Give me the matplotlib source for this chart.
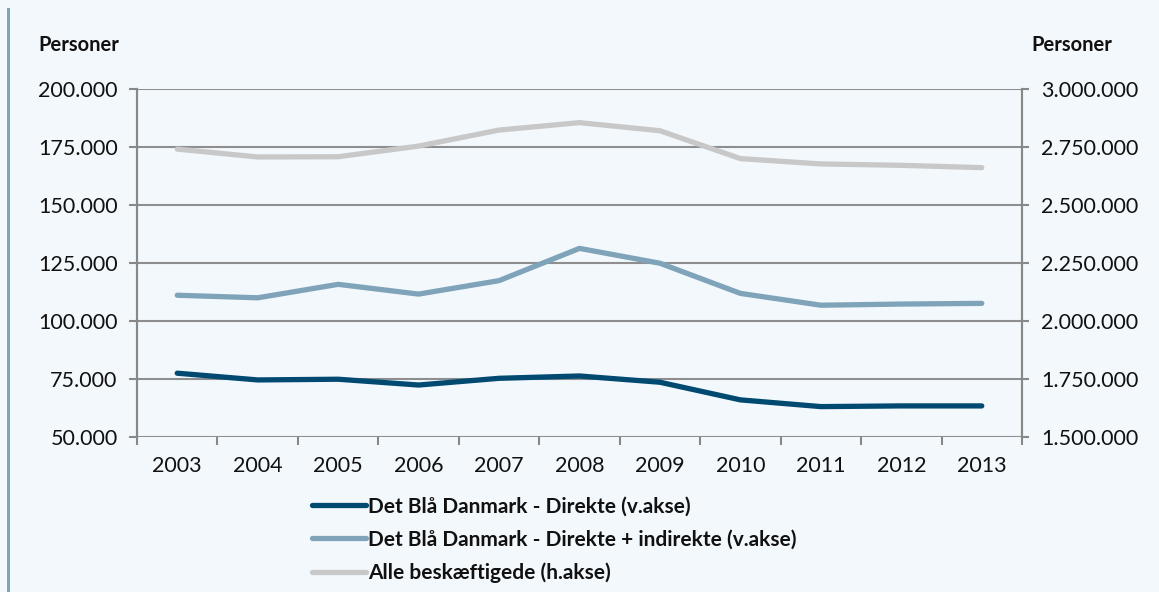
import matplotlib
matplotlib.use("Agg")
import matplotlib.pyplot as plt
from matplotlib.ticker import FuncFormatter, FixedLocator
from matplotlib.lines import Line2D
from matplotlib.patches import Rectangle

plt.rcParams['font.family'] = ['Lato', 'DejaVu Sans']

years = ['2003', '2004', '2005', '2006', '2007', '2008', '2009', '2010', '2011', '2012', '2013']
direkte = [77500, 74600, 74900, 72400, 75300, 76300, 73600, 66000, 63100, 63400, 63400]
direkte_indirekte = [111100, 110000, 115800, 111600, 117400, 131300, 124900, 111900, 106800, 107300, 107600]
alle_beskaeftigede = [2741000, 2707000, 2708000, 2754000, 2823000, 2855000, 2820000, 2700000, 2677000, 2671000, 2661000]

labels = ['Det Blå Danmark - Direkte (v.akse)',
          'Det Blå Danmark - Direkte + indirekte (v.akse)',
          'Alle beskæftigede (h.akse)']
colors = ['#004A72', '#7FA4BA', '#C8C8C8']

bg = '#F3F8FC'
W, H = 1159, 592
fig = plt.figure(figsize=(W / 100, H / 100), dpi=100, facecolor=bg)

# left decorative bar
fig.patches.append(Rectangle((7 / W, 0), 3 / W, 1 - 8 / H, transform=fig.transFigure,
                             facecolor='#7FA3B8', edgecolor='none'))

ax = fig.add_axes([137 / W, 1 - 437 / H, (1022 - 137) / W, (437 - 89) / H])
ax.set_facecolor(bg)
ax2 = ax.twinx()

def fmt(v, pos):
    return f"{int(round(v)):,}".replace(',', '.')

x = list(range(len(years)))
lw = 3.8
ax.plot(x, direkte, color=colors[0], lw=lw, solid_capstyle='round', solid_joinstyle='round', zorder=4)
ax.plot(x, direkte_indirekte, color=colors[1], lw=lw, solid_capstyle='round', solid_joinstyle='round', zorder=4)
ax2.plot(x, alle_beskaeftigede, color=colors[2], lw=lw, solid_capstyle='round', solid_joinstyle='round', zorder=4)

ax.set_xlim(-0.5, len(years) - 0.5)
ax.set_ylim(50000, 200000)
ax2.set_ylim(1500000, 3000000)
ax.set_yticks(range(50000, 200001, 25000))
ax2.set_yticks(range(1500000, 3000001, 250000))
ax.yaxis.set_major_formatter(FuncFormatter(fmt))
ax2.yaxis.set_major_formatter(FuncFormatter(fmt))

fs = 15.5
ax.set_xticks(x)
ax.set_xticklabels(years)
ax.xaxis.set_minor_locator(FixedLocator([i - 0.5 for i in range(len(years) + 1)]))
ax.tick_params(axis='x', which='major', length=0, pad=14, labelsize=fs, colors='#111111')
ax.tick_params(axis='x', which='minor', length=5.5, width=1.5, color='#888888', direction='out')
ax.tick_params(axis='y', length=6, width=1.5, color='#888888', labelsize=fs, labelcolor='#111111', pad=8)
ax2.tick_params(axis='y', length=5, width=1.5, color='#888888', labelsize=fs, labelcolor='#111111', pad=9)

ax.grid(axis='y', color='#8E8E8E', lw=1.5, zorder=1)
ax.set_axisbelow(True)
for a in (ax, ax2):
    a.spines['top'].set_visible(False)
    for s in ('left', 'right', 'bottom'):
        a.spines[s].set_color('#888888')
        a.spines[s].set_linewidth(1.5)
ax.spines['bottom'].set_visible(False)
ax2.spines['bottom'].set_visible(False)

fig.text(38 / W, 1 - 45 / H, 'Personer', fontsize=14.5, fontweight='bold', va='center', ha='left', color='#111111')
fig.text(1031 / W, 1 - 45 / H, 'Personer', fontsize=14.5, fontweight='bold', va='center', ha='left', color='#111111')

handles = [Line2D([0], [0], color=c, lw=lw, solid_capstyle='round') for c in colors]
leg = fig.legend(handles, labels, loc='upper left', bbox_to_anchor=(293 / W, 1 - 478 / H),
                 frameon=False, handlelength=2.6, handletextpad=0.12,
                 labelspacing=0.62, prop={'weight': 'bold', 'size': 15})
for t in leg.get_texts():
    t.set_color('#111111')

fig.savefig('out.png', dpi=100, facecolor=bg)
